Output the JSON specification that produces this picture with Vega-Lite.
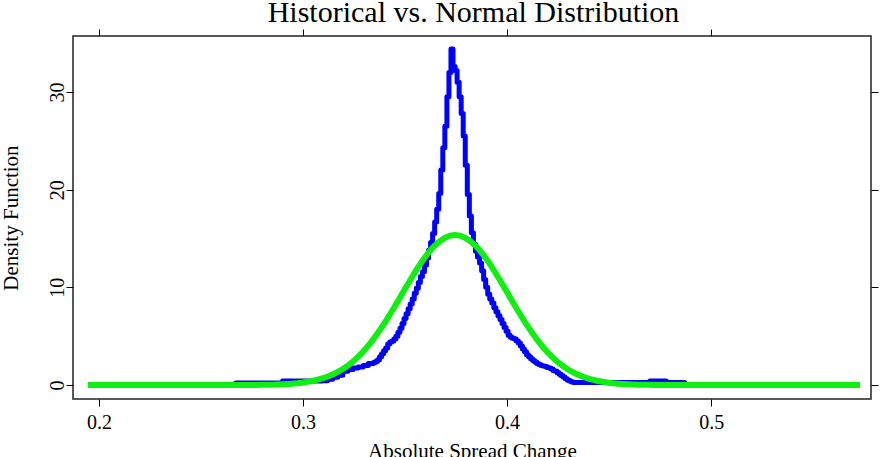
{
  "$schema": "https://vega.github.io/schema/vega-lite/v6.json",
  "width": 798,
  "height": 363,
  "autosize": {"type": "none"},
  "padding": {"left": 73, "top": 36, "right": 11, "bottom": 58},
  "background": "white",
  "config": {
    "view": {"stroke": "#222222", "strokeWidth": 1.5},
    "axis": {
      "domain": false,
      "grid": false,
      "tickColor": "black",
      "tickWidth": 1,
      "tickSize": 7,
      "labelFont": "Liberation Serif",
      "labelFontSize": 20,
      "labelColor": "black",
      "labelFlush": false,
      "labelOverlap": false,
      "titleFont": "Liberation Serif",
      "titleFontSize": 21,
      "titleFontWeight": "normal",
      "titleColor": "black"
    }
  },
  "datasets": {
    "historical": [
      {"change": 0.1946, "density": 0},
      {"change": 0.2670, "density": 0.2},
      {"change": 0.2900, "density": 0.4},
      {"change": 0.3095, "density": 0.45},
      {"change": 0.3120, "density": 0.6},
      {"change": 0.3145, "density": 0.8},
      {"change": 0.3170, "density": 1.0},
      {"change": 0.3195, "density": 1.4},
      {"change": 0.3220, "density": 1.6},
      {"change": 0.3245, "density": 1.75},
      {"change": 0.3270, "density": 1.85},
      {"change": 0.3295, "density": 2.0},
      {"change": 0.3320, "density": 2.2},
      {"change": 0.3345, "density": 2.3},
      {"change": 0.3355, "density": 2.4},
      {"change": 0.3365, "density": 2.6},
      {"change": 0.3375, "density": 2.9},
      {"change": 0.3385, "density": 3.2},
      {"change": 0.3395, "density": 3.5},
      {"change": 0.3405, "density": 3.8},
      {"change": 0.3415, "density": 4.2},
      {"change": 0.3425, "density": 4.4},
      {"change": 0.3435, "density": 4.5},
      {"change": 0.3445, "density": 4.7},
      {"change": 0.3455, "density": 5.0},
      {"change": 0.3465, "density": 5.4},
      {"change": 0.3475, "density": 5.8},
      {"change": 0.3485, "density": 6.3},
      {"change": 0.3495, "density": 6.8},
      {"change": 0.3505, "density": 7.3},
      {"change": 0.3515, "density": 7.8},
      {"change": 0.3525, "density": 8.3},
      {"change": 0.3535, "density": 8.8},
      {"change": 0.3545, "density": 9.4},
      {"change": 0.3555, "density": 9.9},
      {"change": 0.3565, "density": 10.5},
      {"change": 0.3575, "density": 11.1},
      {"change": 0.3585, "density": 11.6},
      {"change": 0.3595, "density": 12.3},
      {"change": 0.3605, "density": 13.0},
      {"change": 0.3615, "density": 13.8},
      {"change": 0.3625, "density": 14.6},
      {"change": 0.3635, "density": 15.5},
      {"change": 0.3645, "density": 16.7},
      {"change": 0.3655, "density": 18.0},
      {"change": 0.3665, "density": 19.6},
      {"change": 0.3675, "density": 22.0},
      {"change": 0.3685, "density": 24.3},
      {"change": 0.3695, "density": 26.5},
      {"change": 0.3705, "density": 29.5},
      {"change": 0.3715, "density": 32.0},
      {"change": 0.3725, "density": 34.4},
      {"change": 0.3735, "density": 32.6},
      {"change": 0.3745, "density": 32.2},
      {"change": 0.3755, "density": 31.0},
      {"change": 0.3765, "density": 29.5},
      {"change": 0.3775, "density": 27.8},
      {"change": 0.3785, "density": 25.5},
      {"change": 0.3795, "density": 22.5},
      {"change": 0.3805, "density": 19.5},
      {"change": 0.3815, "density": 17.3},
      {"change": 0.3825, "density": 15.6},
      {"change": 0.3835, "density": 14.4},
      {"change": 0.3845, "density": 13.7},
      {"change": 0.3855, "density": 13.1},
      {"change": 0.3865, "density": 12.5},
      {"change": 0.3875, "density": 11.7},
      {"change": 0.3885, "density": 10.8},
      {"change": 0.3895, "density": 10.0},
      {"change": 0.3905, "density": 9.3},
      {"change": 0.3915, "density": 8.8},
      {"change": 0.3925, "density": 8.4},
      {"change": 0.3935, "density": 7.9},
      {"change": 0.3945, "density": 7.5},
      {"change": 0.3955, "density": 7.1},
      {"change": 0.3965, "density": 6.7},
      {"change": 0.3975, "density": 6.3},
      {"change": 0.3985, "density": 5.9},
      {"change": 0.3995, "density": 5.5},
      {"change": 0.4005, "density": 5.1},
      {"change": 0.4015, "density": 4.9},
      {"change": 0.4025, "density": 4.8},
      {"change": 0.4035, "density": 4.7},
      {"change": 0.4045, "density": 4.5},
      {"change": 0.4055, "density": 4.3},
      {"change": 0.4065, "density": 4.0},
      {"change": 0.4075, "density": 3.7},
      {"change": 0.4085, "density": 3.4},
      {"change": 0.4095, "density": 3.1},
      {"change": 0.4105, "density": 2.9},
      {"change": 0.4115, "density": 2.7},
      {"change": 0.4125, "density": 2.5},
      {"change": 0.4135, "density": 2.35},
      {"change": 0.4145, "density": 2.2},
      {"change": 0.4155, "density": 2.1},
      {"change": 0.4165, "density": 2.0},
      {"change": 0.4175, "density": 1.95},
      {"change": 0.4185, "density": 1.9},
      {"change": 0.4195, "density": 1.8},
      {"change": 0.4205, "density": 1.75},
      {"change": 0.4215, "density": 1.65},
      {"change": 0.4225, "density": 1.5},
      {"change": 0.4235, "density": 1.4},
      {"change": 0.4245, "density": 1.25},
      {"change": 0.4255, "density": 1.1},
      {"change": 0.4265, "density": 0.95},
      {"change": 0.4275, "density": 0.8},
      {"change": 0.4285, "density": 0.65},
      {"change": 0.4295, "density": 0.5},
      {"change": 0.4305, "density": 0.4},
      {"change": 0.4315, "density": 0.3},
      {"change": 0.4325, "density": 0.25},
      {"change": 0.4700, "density": 0.4},
      {"change": 0.4780, "density": 0.25},
      {"change": 0.4870, "density": 0},
      {"change": 0.5729, "density": 0}
    ],
    "normal": [
      {"change": 0.1946, "density": 0},
      {"change": 0.2645, "density": 0.002},
      {"change": 0.2695, "density": 0.004},
      {"change": 0.2745, "density": 0.0094},
      {"change": 0.2795, "density": 0.0194},
      {"change": 0.2845, "density": 0.0384},
      {"change": 0.2895, "density": 0.0734},
      {"change": 0.2945, "density": 0.1351},
      {"change": 0.2995, "density": 0.2396},
      {"change": 0.3045, "density": 0.4094},
      {"change": 0.3095, "density": 0.6745},
      {"change": 0.3145, "density": 1.071},
      {"change": 0.3195, "density": 1.639},
      {"change": 0.3245, "density": 2.416},
      {"change": 0.3295, "density": 3.433},
      {"change": 0.3345, "density": 4.700},
      {"change": 0.3395, "density": 6.203},
      {"change": 0.3445, "density": 7.889},
      {"change": 0.3495, "density": 9.668},
      {"change": 0.3545, "density": 11.42},
      {"change": 0.3595, "density": 13.00},
      {"change": 0.3645, "density": 14.26},
      {"change": 0.3695, "density": 15.07},
      {"change": 0.3745, "density": 15.35},
      {"change": 0.3795, "density": 15.07},
      {"change": 0.3845, "density": 14.26},
      {"change": 0.3895, "density": 13.00},
      {"change": 0.3945, "density": 11.42},
      {"change": 0.3995, "density": 9.668},
      {"change": 0.4045, "density": 7.889},
      {"change": 0.4095, "density": 6.203},
      {"change": 0.4145, "density": 4.700},
      {"change": 0.4195, "density": 3.433},
      {"change": 0.4245, "density": 2.416},
      {"change": 0.4295, "density": 1.639},
      {"change": 0.4345, "density": 1.071},
      {"change": 0.4395, "density": 0.6745},
      {"change": 0.4445, "density": 0.4094},
      {"change": 0.4495, "density": 0.2396},
      {"change": 0.4545, "density": 0.1351},
      {"change": 0.4595, "density": 0.0734},
      {"change": 0.4645, "density": 0.0384},
      {"change": 0.4695, "density": 0.0194},
      {"change": 0.4745, "density": 0.0094},
      {"change": 0.4795, "density": 0.004},
      {"change": 0.4845, "density": 0.002},
      {"change": 0.5729, "density": 0}
    ]
  },
  "layer": [
    {
      "data": {"name": "historical"},
      "mark": {
        "type": "line",
        "interpolate": "step-after",
        "color": "#0000ff",
        "strokeWidth": 5,
        "strokeCap": "butt",
        "strokeJoin": "round"
      },
      "encoding": {
        "x": {
          "field": "change",
          "type": "quantitative",
          "scale": {"domain": [0.1873, 0.5783], "nice": false, "zero": false},
          "axis": {
            "orient": "bottom",
            "values": [0.2, 0.3, 0.4, 0.5],
            "format": ".1f",
            "labelPadding": 6,
            "title": "Absolute Spread Change",
            "titlePadding": 8
          }
        },
        "y": {
          "field": "density",
          "type": "quantitative",
          "scale": {"domain": [-1.43, 35.73], "nice": false, "zero": false},
          "axis": {
            "orient": "left",
            "values": [0, 10, 20, 30],
            "labelAngle": 270,
            "labelAlign": "center",
            "labelBaseline": "alphabetic",
            "labelPadding": 3,
            "title": "Density Function",
            "titleAngle": 270,
            "titleBaseline": "alphabetic",
            "titleX": -56
          }
        }
      }
    },
    {
      "data": {"name": "normal"},
      "mark": {
        "type": "line",
        "interpolate": "monotone",
        "color": "#11ee11",
        "strokeWidth": 6,
        "strokeCap": "butt",
        "strokeJoin": "round"
      },
      "encoding": {
        "x": {
          "field": "change",
          "type": "quantitative",
          "axis": {
            "orient": "top",
            "values": [0.2, 0.3, 0.4, 0.5],
            "labels": false,
            "title": "Historical vs. Normal Distribution",
            "titleFontSize": 30,
            "titleAngle": 0,
            "titleAlign": "center",
            "titleBaseline": "alphabetic",
            "titleX": 400,
            "titleY": -15
          }
        },
        "y": {
          "field": "density",
          "type": "quantitative",
          "axis": {
            "orient": "right",
            "values": [0, 10, 20, 30],
            "labels": false,
            "title": null
          }
        }
      }
    }
  ],
  "resolve": {"axis": {"x": "independent", "y": "independent"}}
}
